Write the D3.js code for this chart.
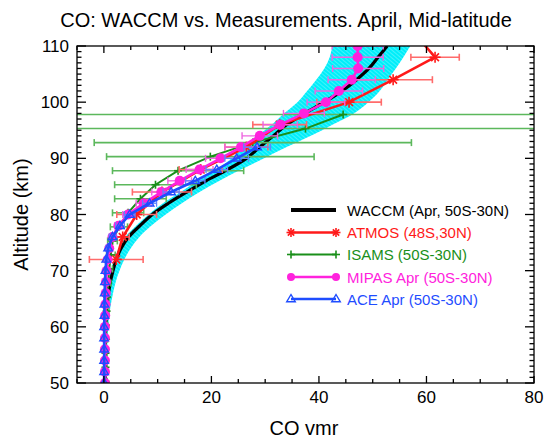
<!DOCTYPE html>
<html><head><meta charset="utf-8">
<script src="https://cdn.jsdelivr.net/npm/d3@7"></script>
<style>body{margin:0;background:#fff}svg{display:block;font-family:"Liberation Sans",Arial,sans-serif}</style>
</head><body><svg id="c" width="546" height="438"></svg>
<script>
// ---- data ----
const waccmAlt   = [50,55,60,64,68,70,72,74,76,78,80,82,84,86,88,90,92,94,96,98,100,102,104,106,108,110];
const waccmMean  = [0.2,0.25,0.35,0.6,1.2,1.7,2.3,3.2,4.6,6.7,9,12,15.4,19,23,26.5,29,31.5,34,37.3,41,44.3,47,49.3,51,52.7];
const waccmLow   = [0.05,0.1,0.25,0.45,0.9,1.3,1.9,2.8,4.0,6.0,8.3,11,14.3,17.5,21,23.8,26,28.5,31.2,33.5,36,37.8,39.5,41,42,42.5];
const waccmHigh  = [0.5,0.6,0.8,1.3,2.2,2.9,3.8,5.0,6.6,8.8,11.5,14.5,17.8,21.5,25.5,29.8,34,38.5,42.5,46.5,49.2,51.3,52.8,54.3,55.7,57];

const atmosAlt = [72,76,80,84,88,92,96,100,104,108,112];
const atmosVal = [2.3,3.5,6.1,10.8,18,26.5,32.7,45.6,53.8,61.6,58];
const atmosErr = [5,1.2,3.7,5.5,4,4,5,6,7.3,4.5,4.5];

const isamsAlt = [50.3,52.8,55.3,57.8,60.3,62.8,65.3,67.8,70.3,72.8,75.3,77.8,80.3,82.8,85.3,87.8,90.3,92.8,95.3,97.8];
const isamsVal = [0.3,0.3,0.3,0.4,0.4,0.5,0.6,0.8,1.0,1.3,1.6,2.8,4.5,6.8,9.6,13.8,19.8,27.7,37.5,44.5];
const isamsErr = [0.3,0.3,0.3,0.3,0.3,0.4,0.4,0.5,0.6,0.8,0.9,1.6,2.9,4.8,7.6,12.2,19.3,29.5,100,100];

const mipasAlt = [50,52,54,56,58,60,62,64,66,68,70,72,74,76,78,80,82,84,86,88,90,92,94,96,98,100,102,104,106,108,110];
const mipasVal = [0.2,0.2,0.2,0.2,0.2,0.2,0.25,0.3,0.35,0.4,0.5,0.7,1.0,1.6,2.7,4.5,7.4,10.7,14.1,17.8,21.7,25.5,29,32.8,37.2,41.3,43.7,46.1,47.3,47.2,47.2];
const mipasErr = [0.1,0.1,0.1,0.1,0.1,0.1,0.1,0.1,0.1,0.15,0.2,0.3,0.4,0.5,0.7,1,1.4,1.8,2.2,2.5,2.8,3,3.3,3.2,3.8,3.5,4.4,4.4,4.75,4.75,4.75];

const aceAlt = [50,52,54,56,58,60,62,64,66,68,70,72,74,76,78,80,82,84,86,88,90,92];
const aceVal = [0.05,0.05,0.05,0.05,0.05,0.05,0.1,0.1,0.15,0.2,0.3,0.45,0.8,1.6,3.0,4.8,8.5,12.5,17,21,24.7,28.5];
const aceErr = [0.1,0.1,0.1,0.1,0.1,0.1,0.1,0.1,0.1,0.1,0.2,0.3,0.4,0.6,0.8,1,1.3,1.5,1.8,2,2.2,2.5];

const xTicks = [0,20,40,60,80];
const yTicks = [50,60,70,80,90,100,110];
const legendLabels = ["WACCM (Apr, 50S-30N)","ATMOS (48S,30N)","ISAMS (50S-30N)","MIPAS Apr (50S-30N)","ACE Apr (50S-30N)"];

// ---- layout ----
const L=77,R=534,T=46,B=383;
const x=d3.scaleLinear().domain([-5,80]).range([L,R]);
const y=d3.scaleLinear().domain([50,110]).range([B,T]);
const svg=d3.select("#c");
const defs=svg.append("defs");
defs.append("clipPath").attr("id","clip").append("rect").attr("x",L).attr("y",T).attr("width",R-L).attr("height",B-T);
const pat=defs.append("pattern").attr("id","hatch").attr("patternUnits","userSpaceOnUse").attr("width",3).attr("height",3).attr("patternTransform","rotate(-50)");
pat.append("rect").attr("width",3).attr("height",3).attr("fill","#00eefa");
pat.append("line").attr("x1",0).attr("y1",0).attr("x2",0).attr("y2",3).attr("stroke","#a8f8fc").attr("stroke-width",0.8);

const COL={atmos:"#ff1a1a",atmosE:"#ff6b6b",isams:"#1a8f1a",isamsE:"#5cb85c",mipas:"#ff22dd",mipasE:"#ee66e0",ace:"#1f4dff",aceE:"#5f85ff"};

svg.append("text").attr("x",286).attr("y",27).attr("text-anchor","middle").attr("font-size",20).text("CO: WACCM vs. Measurements. April, Mid-latitude");

const g=svg.append("g").attr("clip-path","url(#clip)");

// band
const band=waccmAlt.map((a,i)=>({a,lo:waccmLow[i],hi:waccmHigh[i]}));
g.append("path").datum(band).attr("fill","url(#hatch)")
 .attr("d",d3.area().curve(d3.curveCatmullRom).y(d=>y(d.a)).x0(d=>x(d.lo)).x1(d=>x(d.hi)));
// WACCM mean
g.append("path").datum(waccmAlt.map((a,i)=>[waccmMean[i],a])).attr("fill","none").attr("stroke","#000").attr("stroke-width",3.2)
 .attr("d",d3.line().curve(d3.curveCatmullRom).x(d=>x(d[0])).y(d=>y(d[1])));

function errbars(alts,vals,errs,color,w){
  const eg=g.append("g").attr("stroke",color).attr("stroke-width",w||1.4).attr("fill","none");
  alts.forEach((a,i)=>{
    const x0=x(vals[i]-errs[i]),x1=x(vals[i]+errs[i]),yy=y(a);
    eg.append("line").attr("x1",x0).attr("x2",x1).attr("y1",yy).attr("y2",yy);
    eg.append("line").attr("x1",x0).attr("x2",x0).attr("y1",yy-3.5).attr("y2",yy+3.5);
    eg.append("line").attr("x1",x1).attr("x2",x1).attr("y1",yy-3.5).attr("y2",yy+3.5);
  });
}
function profile(alts,vals,color,w){
  g.append("path").datum(alts.map((a,i)=>[vals[i],a])).attr("fill","none").attr("stroke",color).attr("stroke-width",w)
   .attr("d",d3.line().x(d=>x(d[0])).y(d=>y(d[1])));
}
function star(sel,cx,cy,r,color){
  const s=sel.append("g").attr("stroke",color).attr("stroke-width",1.6);
  [0,45,90,135].forEach(an=>{const dx=r*Math.cos(an*Math.PI/180),dy=r*Math.sin(an*Math.PI/180);
    s.append("line").attr("x1",cx-dx).attr("x2",cx+dx).attr("y1",cy-dy).attr("y2",cy+dy);});
}
function plus(sel,cx,cy,r,color){
  const s=sel.append("g").attr("stroke",color).attr("stroke-width",1.6);
  s.append("line").attr("x1",cx-r).attr("x2",cx+r).attr("y1",cy).attr("y2",cy);
  s.append("line").attr("x1",cx).attr("x2",cx).attr("y1",cy-r).attr("y2",cy+r);
}
function circ(sel,cx,cy,r,color){sel.append("circle").attr("cx",cx).attr("cy",cy).attr("r",r).attr("fill",color);}
function tri(sel,cx,cy,r,color){
  sel.append("path").attr("d",`M${cx},${cy-r}L${cx+r*0.95},${cy+r*0.6}L${cx-r*0.95},${cy+r*0.6}Z`)
   .attr("fill","none").attr("stroke",color).attr("stroke-width",1.4);
}

// ISAMS
errbars(isamsAlt,isamsVal,isamsErr,COL.isamsE,1.6);
profile(isamsAlt,isamsVal,COL.isams,2);
isamsAlt.forEach((a,i)=>plus(g,x(isamsVal[i]),y(a),4,COL.isams));
// ATMOS
errbars(atmosAlt,atmosVal,atmosErr,COL.atmosE,1.6);
profile(atmosAlt,atmosVal,COL.atmos,2.6);
atmosAlt.forEach((a,i)=>star(g,x(atmosVal[i]),y(a),5.5,COL.atmos));
// MIPAS
errbars(mipasAlt,mipasVal,mipasErr,COL.mipasE,1.4);
profile(mipasAlt,mipasVal,COL.mipas,2.6);
mipasAlt.forEach((a,i)=>circ(g,x(mipasVal[i]),y(a),5,COL.mipas));
// ACE
errbars(aceAlt,aceVal,aceErr,COL.aceE,1.3);
profile(aceAlt,aceVal,COL.ace,2.6);
aceAlt.forEach((a,i)=>tri(g,x(aceVal[i]),y(a),4.5,COL.ace));

// axes frame
const ax=svg.append("g").attr("stroke","#000").attr("stroke-width",1.3);
ax.append("rect").attr("x",L).attr("y",T).attr("width",R-L).attr("height",B-T).attr("fill","none");
d3.range(-5,81,5).forEach(v=>{const maj=v%20===0,len=maj?7:4,xx=x(v);
  ax.append("line").attr("x1",xx).attr("x2",xx).attr("y1",B).attr("y2",B-len);
  ax.append("line").attr("x1",xx).attr("x2",xx).attr("y1",T).attr("y2",T+len);});
d3.range(50,111,1).forEach(v=>{const maj=v%10===0,len=maj?9:4.5,yy=y(v);
  ax.append("line").attr("x1",L).attr("x2",L+len).attr("y1",yy).attr("y2",yy);
  ax.append("line").attr("x1",R).attr("x2",R-len).attr("y1",yy).attr("y2",yy);});
xTicks.forEach(v=>svg.append("text").attr("x",x(v)).attr("y",403).attr("text-anchor","middle").attr("font-size",17).text(v));
yTicks.forEach(v=>svg.append("text").attr("x",69).attr("y",y(v)+6).attr("text-anchor","end").attr("font-size",17).text(v));
svg.append("text").attr("x",304).attr("y",435).attr("text-anchor","middle").attr("font-size",20).text("CO vmr");
svg.append("text").attr("transform",`translate(28,${(T+B)/2}) rotate(-90)`).attr("text-anchor","middle").attr("font-size",20).text("Altitude (km)");

// legend
const lg=svg.append("g");
const lx0=291,lx1=336,ly=[210,232.5,254.5,277,299];
const lcol=["#000",COL.atmos,COL.isams,COL.mipas,COL.ace];
const lw=[4,2.6,2,2.6,2.6];
ly.forEach((yy,i)=>{
  lg.append("line").attr("x1",lx0).attr("x2",lx1).attr("y1",yy).attr("y2",yy).attr("stroke",lcol[i]).attr("stroke-width",lw[i]);
  if(i===1){star(lg,lx0,yy,4.5,lcol[i]);star(lg,lx1,yy,4.5,lcol[i]);}
  if(i===2){plus(lg,lx0,yy,4,lcol[i]);plus(lg,lx1,yy,4,lcol[i]);}
  if(i===3){circ(lg,lx0,yy,4,lcol[i]);circ(lg,lx1,yy,4,lcol[i]);}
  if(i===4){tri(lg,lx0,yy,4.5,lcol[i]);tri(lg,lx1,yy,4.5,lcol[i]);}
  lg.append("text").attr("x",347).attr("y",yy+5.5).attr("font-size",15).attr("fill",lcol[i]).text(legendLabels[i]);
});
</script></body></html>
